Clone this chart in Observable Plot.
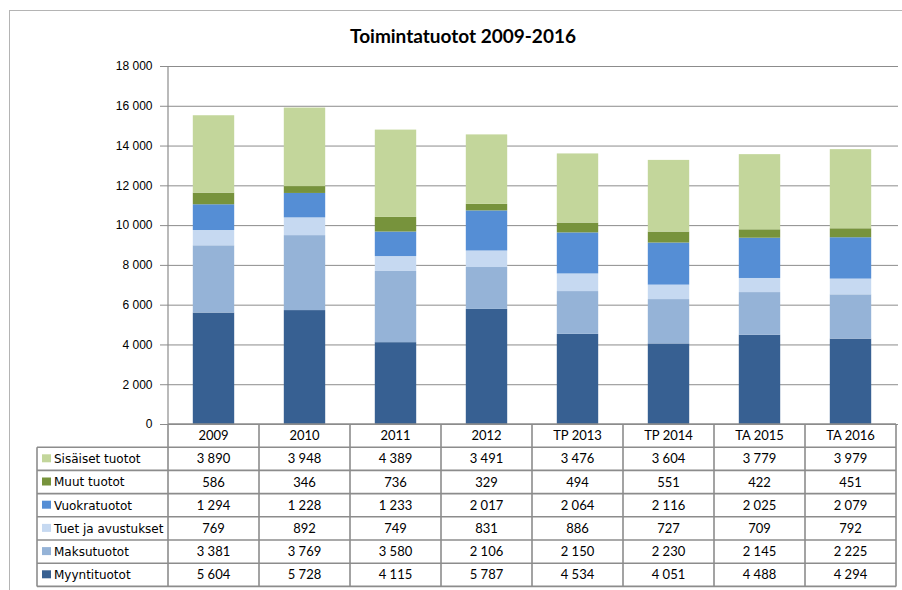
<!DOCTYPE html>
<html><head><meta charset="utf-8">
<script src="https://cdn.jsdelivr.net/npm/d3@7"></script>
<script src="https://cdn.jsdelivr.net/npm/@observablehq/plot@0.6"></script>
<style>
body{margin:0;background:#fff;}
#wrap{position:relative;width:902px;height:590px;overflow:hidden;background:#fff;}
#border{position:absolute;left:9px;top:10px;width:1000px;height:1000px;border:1px solid #b4b4b4;}
#title{position:absolute;left:0;top:24px;width:926px;text-align:center;font:bold 19px Lato, sans-serif;color:#000;}
#chart{position:absolute;left:0;top:0;}
</style></head><body>
<div id="wrap"><div id="border"></div><div id="chart"></div><div id="title">Toimintatuotot 2009-2016</div></div>
<script>
const categories = ["2009","2010","2011","2012","TP 2013","TP 2014","TA 2015","TA 2016"];
const seriesNames = ["Myyntituotot","Maksutuotot","Tuet ja avustukset","Vuokratuotot","Muut tuotot","Sisäiset tuotot"];
const myyntituotot = [5604,5728,4115,5787,4534,4051,4488,4294];
const maksutuotot = [3381,3769,3580,2106,2150,2230,2145,2225];
const tuetJaAvustukset = [769,892,749,831,886,727,709,792];
const vuokratuotot = [1294,1228,1233,2017,2064,2116,2025,2079];
const muutTuotot = [586,346,736,329,494,551,422,451];
const sisaisetTuotot = [3890,3948,4389,3491,3476,3604,3779,3979];
const seriesColors = ["#376092","#95b3d7","#c6d9f1","#558ed5","#77933c","#c3d69b"];
const yTicks = [0,2000,4000,6000,8000,10000,12000,14000,16000,18000];

const seriesValues = [myyntituotot, maksutuotot, tuetJaAvustukset, vuokratuotot, muutTuotot, sisaisetTuotot];
const data = seriesNames.flatMap((s,i)=>categories.map((c,j)=>({category:c, series:s, value:seriesValues[i][j]})));
const locale = d3.formatLocale({decimal:",", thousands:"\u00a0", grouping:[3], currency:["",""]});
const fmt = locale.format(",");

const plot = Plot.plot({
  width: 902, height: 590,
  marginLeft: 165, marginRight: 4, marginTop: 66, marginBottom: 166,
  style: {fontFamily: "'Liberation Sans', Arial, sans-serif", fontSize: "12px", color: "#000", background: "transparent", overflow: "visible"},
  x: {domain: categories, padding: 0, axis: null},
  y: {domain: [0,18000], axis: null},
  color: {domain: seriesNames, range: seriesColors},
  marks: [
    Plot.gridY(yTicks, {stroke: "#8c8c8c", strokeOpacity: 1, strokeWidth: 1}),
    Plot.axisY(yTicks, {tickFormat: fmt, tickSize: 5, tickPadding: 8, stroke: "#8c8c8c", label: null, fill: "#000", fontSize: 12}),
    Plot.barY(data, {x: "category", y: "value", fill: "series", insetLeft: 24.8, insetRight: 24.8})
  ]
});
document.getElementById("chart").appendChild(plot);

// Axis line and data table drawn with the plot's own scales
const svg = d3.select(plot);
const xs = plot.scale("x"), ys = plot.scale("y");
const bw = xs.bandwidth;
const xStart = xs.apply(categories[0]);
const xEnd = xs.apply(categories[categories.length-1]) + bw;
const y0 = ys.apply(0);
const yTop = ys.apply(18000);
const rowH = 23.2;
const labelW = 131;
const labelLeft = xStart - labelW;
const tableRows = seriesNames.map((s,i)=>({name:s, color:seriesColors[i], values:seriesValues[i]})).reverse();
const nRows = tableRows.length + 1;
const g = svg.append("g");
const lineColor = "#8c8c8c";
g.append("line").attr("x1", xStart).attr("x2", xStart).attr("y1", yTop).attr("y2", y0).attr("stroke", lineColor).attr("stroke-width", 1.2);
for (let i = 0; i <= nRows; i++) {
  g.append("line").attr("x1", i === 0 ? xStart : labelLeft).attr("x2", xEnd)
    .attr("y1", y0 + i*rowH).attr("y2", y0 + i*rowH)
    .attr("stroke", lineColor).attr("stroke-width", 1.6);
}
g.append("line").attr("x1", labelLeft).attr("x2", labelLeft).attr("y1", y0 + rowH).attr("y2", y0 + nRows*rowH).attr("stroke", lineColor).attr("stroke-width", 1.6);
[...categories.map(c=>xs.apply(c)), xEnd].forEach(x=>{
  g.append("line").attr("x1", x).attr("x2", x).attr("y1", y0).attr("y2", y0 + nRows*rowH).attr("stroke", lineColor).attr("stroke-width", 1.6);
});
categories.forEach(c=>{
  g.append("text").attr("x", xs.apply(c) + bw/2).attr("y", y0 + rowH/2).attr("dy","0.36em")
    .attr("text-anchor","middle").attr("font-family","Lato, sans-serif").attr("font-size",13).attr("fill","#000").text(c);
});
tableRows.forEach((r,i)=>{
  const yc = y0 + (i+1)*rowH + rowH/2;
  g.append("rect").attr("x", labelLeft + 5).attr("y", yc - 4.5).attr("width", 9).attr("height", 8).attr("fill", r.color);
  g.append("text").attr("x", labelLeft + 17).attr("y", yc).attr("dy","0.36em").attr("text-anchor","start")
    .attr("font-family","'DejaVu Sans', sans-serif").attr("font-size",12).attr("fill","#000").text(r.name);
  categories.forEach((c,j)=>{
    g.append("text").attr("x", xs.apply(c) + bw/2).attr("y", yc).attr("dy","0.36em")
      .attr("text-anchor","middle").attr("font-family","Lato, sans-serif").attr("font-size",13).attr("fill","#000").text(fmt(r.values[j]));
  });
});
</script>
</body></html>
